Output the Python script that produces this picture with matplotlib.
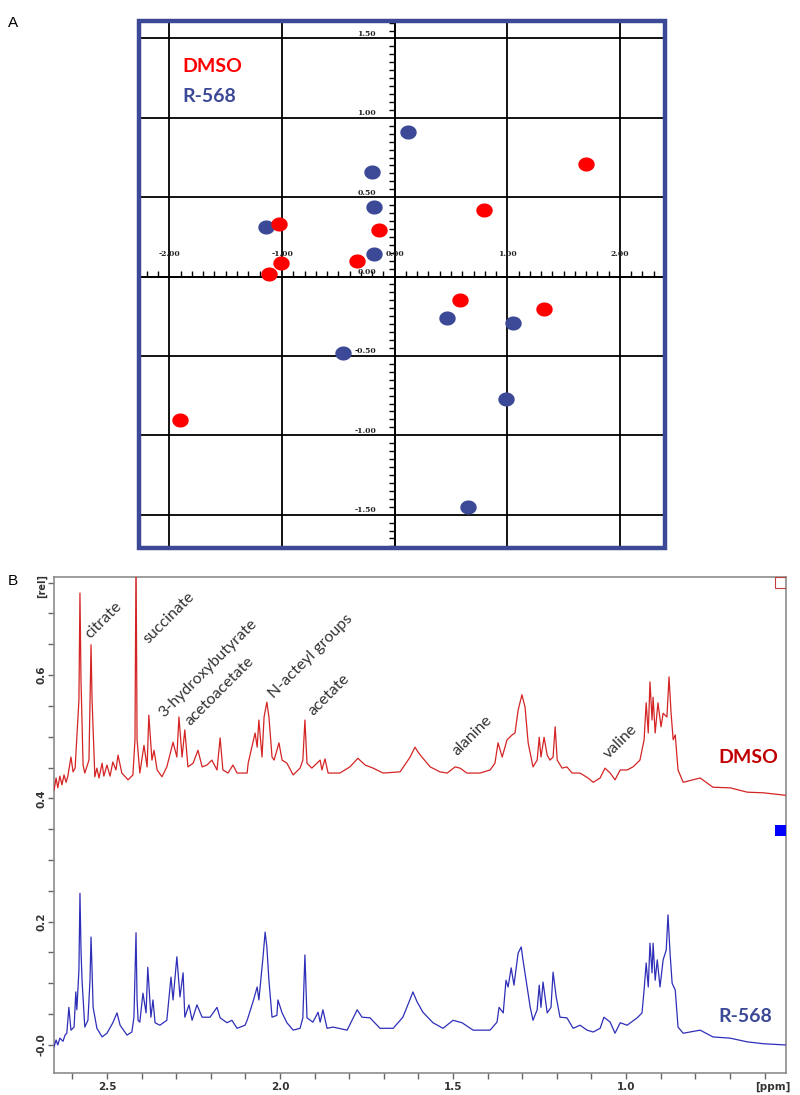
import matplotlib
matplotlib.use('Agg')
import numpy as np
import matplotlib.pyplot as plt
from matplotlib.path import Path
from matplotlib.patches import Rectangle

# ---------------- Panel A data (scores plot) ----------------
dmso_x = [1.695, 0.79, -1.03, -0.142, -1.005, -0.334, -1.12, 0.58, 1.325, -1.908]
dmso_y = [0.706, 0.42, 0.33, 0.296, 0.083, 0.10, 0.015, -0.148, -0.206, -0.906]
r568_x = [0.118, -0.20, -0.186, -1.145, -0.18, 0.467, 1.05, -0.455, 0.99, 0.65]
r568_y = [0.908, 0.66, 0.44, 0.31, 0.14, -0.26, -0.29, -0.48, -0.77, -1.45]

a_xticks = [-2.0, -1.0, 0.0, 1.0, 2.0]
a_xticklabels = ["-2.00", "-1.00", "0.00", "1.00", "2.00"]
a_yticks = [-1.5, -1.0, -0.5, 0.0, 0.5, 1.0, 1.5]
a_yticklabels = ["-1.50", "-1.00", "-0.50", "0.00", "0.50", "1.00", "1.50"]

# ---------------- Panel B data (1H NMR spectra) ----------------
dmso_ppm = [2.653, 2.647, 2.642, 2.636, 2.630, 2.624, 2.618, 2.613, 2.604, 2.598,
            2.592, 2.587, 2.581, 2.578, 2.575, 2.569, 2.564, 2.552, 2.546, 2.543,
            2.535, 2.529, 2.523, 2.514, 2.509, 2.500, 2.491, 2.483, 2.474, 2.468,
            2.457, 2.439, 2.425, 2.419, 2.416, 2.413, 2.405, 2.393, 2.384, 2.379,
            2.370, 2.364, 2.355, 2.341, 2.327, 2.309, 2.298, 2.292, 2.283, 2.275,
            2.266, 2.251, 2.237, 2.225, 2.211, 2.197, 2.182, 2.173, 2.165, 2.150,
            2.136, 2.124, 2.095, 2.092, 2.072, 2.066, 2.061, 2.052, 2.046, 2.038,
            2.032, 2.023, 2.017, 2.003, 1.994, 1.980, 1.962, 1.942, 1.934, 1.928,
            1.922, 1.908, 1.884, 1.879, 1.870, 1.861, 1.827, 1.798, 1.775, 1.754,
            1.731, 1.702, 1.653, 1.624, 1.610, 1.601, 1.590, 1.566, 1.538, 1.517,
            1.494, 1.480, 1.460, 1.422, 1.393, 1.379, 1.370, 1.358, 1.344, 1.329,
            1.321, 1.312, 1.301, 1.292, 1.283, 1.269, 1.257, 1.251, 1.246, 1.237,
            1.228, 1.220, 1.211, 1.205, 1.199, 1.185, 1.171, 1.156, 1.133, 1.110,
            1.095, 1.075, 1.061, 1.046, 1.032, 1.017, 0.997, 0.980, 0.960, 0.948,
            0.942, 0.936, 0.931, 0.925, 0.922, 0.916, 0.908, 0.899, 0.893, 0.882,
            0.876, 0.870, 0.864, 0.858, 0.850, 0.835, 0.786, 0.749, 0.699, 0.650,
            0.604, 0.540]
dmso_int = [0.413, 0.433, 0.417, 0.436, 0.422, 0.438, 0.426, 0.436, 0.467, 0.443,
            0.449, 0.499, 0.559, 0.733, 0.592, 0.454, 0.441, 0.462, 0.649, 0.559,
            0.435, 0.449, 0.433, 0.457, 0.436, 0.454, 0.436, 0.459, 0.446, 0.470,
            0.441, 0.430, 0.438, 0.495, 0.800, 0.495, 0.441, 0.486, 0.451, 0.535,
            0.462, 0.478, 0.446, 0.435, 0.451, 0.491, 0.467, 0.532, 0.467, 0.511,
            0.451, 0.457, 0.478, 0.451, 0.454, 0.462, 0.446, 0.498, 0.446, 0.441,
            0.454, 0.441, 0.441, 0.457, 0.506, 0.483, 0.527, 0.467, 0.532, 0.556,
            0.532, 0.467, 0.462, 0.490, 0.462, 0.457, 0.438, 0.449, 0.462, 0.527,
            0.457, 0.449, 0.462, 0.446, 0.464, 0.441, 0.441, 0.451, 0.465, 0.454,
            0.449, 0.441, 0.443, 0.467, 0.483, 0.475, 0.467, 0.451, 0.443, 0.441,
            0.451, 0.449, 0.441, 0.441, 0.446, 0.457, 0.490, 0.467, 0.495, 0.503,
            0.506, 0.543, 0.568, 0.548, 0.490, 0.451, 0.462, 0.499, 0.467, 0.499,
            0.470, 0.462, 0.467, 0.516, 0.462, 0.449, 0.451, 0.441, 0.441, 0.433,
            0.426, 0.433, 0.449, 0.441, 0.430, 0.446, 0.446, 0.451, 0.462, 0.495,
            0.555, 0.506, 0.589, 0.527, 0.564, 0.506, 0.555, 0.516, 0.538, 0.532,
            0.597, 0.538, 0.495, 0.503, 0.446, 0.426, 0.433, 0.418, 0.417, 0.410,
            0.409, 0.405]

r568_ppm = [2.653, 2.647, 2.642, 2.636, 2.627, 2.621, 2.616, 2.610, 2.604, 2.595,
            2.590, 2.587, 2.581, 2.578, 2.575, 2.572, 2.564, 2.555, 2.549, 2.546,
            2.543, 2.540, 2.529, 2.514, 2.500, 2.483, 2.471, 2.462, 2.442, 2.428,
            2.422, 2.416, 2.413, 2.410, 2.405, 2.396, 2.387, 2.382, 2.373, 2.367,
            2.361, 2.347, 2.327, 2.315, 2.309, 2.298, 2.289, 2.280, 2.275, 2.263,
            2.254, 2.240, 2.225, 2.202, 2.182, 2.173, 2.153, 2.139, 2.124, 2.101,
            2.095, 2.078, 2.066, 2.061, 2.049, 2.043, 2.038, 2.032, 2.023, 2.009,
            2.006, 1.994, 1.980, 1.962, 1.942, 1.934, 1.928, 1.922, 1.905, 1.890,
            1.884, 1.876, 1.864, 1.847, 1.806, 1.777, 1.763, 1.740, 1.711, 1.673,
            1.645, 1.627, 1.616, 1.604, 1.587, 1.558, 1.529, 1.500, 1.474, 1.442,
            1.393, 1.373, 1.367, 1.355, 1.347, 1.341, 1.332, 1.324, 1.312, 1.303,
            1.298, 1.277, 1.269, 1.257, 1.251, 1.246, 1.240, 1.228, 1.217, 1.211,
            1.202, 1.191, 1.171, 1.153, 1.133, 1.113, 1.095, 1.075, 1.064, 1.046,
            1.032, 1.017, 0.997, 0.968, 0.954, 0.948, 0.942, 0.936, 0.931, 0.925,
            0.922, 0.916, 0.910, 0.902, 0.893, 0.884, 0.879, 0.873, 0.867, 0.858,
            0.850, 0.835, 0.786, 0.749, 0.699, 0.650, 0.604, 0.540]
r568_int = [-0.003, 0.008, 0.000, 0.011, 0.006, 0.016, 0.019, 0.061, 0.024, 0.029,
            0.086, 0.057, 0.121, 0.246, 0.154, 0.105, 0.029, 0.040, 0.105, 0.175,
            0.121, 0.061, 0.027, 0.013, 0.019, 0.036, 0.052, 0.032, 0.016, 0.021,
            0.045, 0.182, 0.073, 0.040, 0.037, 0.084, 0.052, 0.126, 0.045, 0.073,
            0.036, 0.032, 0.040, 0.110, 0.073, 0.143, 0.078, 0.117, 0.045, 0.065,
            0.040, 0.065, 0.045, 0.045, 0.061, 0.044, 0.036, 0.040, 0.027, 0.032,
            0.040, 0.070, 0.094, 0.073, 0.143, 0.183, 0.159, 0.105, 0.045, 0.048,
            0.073, 0.052, 0.036, 0.024, 0.027, 0.044, 0.146, 0.044, 0.037, 0.053,
            0.037, 0.057, 0.027, 0.029, 0.024, 0.057, 0.045, 0.044, 0.027, 0.027,
            0.045, 0.070, 0.086, 0.070, 0.053, 0.036, 0.027, 0.040, 0.036, 0.024,
            0.024, 0.037, 0.061, 0.052, 0.105, 0.094, 0.125, 0.097, 0.149, 0.159,
            0.138, 0.061, 0.040, 0.057, 0.097, 0.061, 0.102, 0.052, 0.061, 0.118,
            0.078, 0.045, 0.044, 0.027, 0.032, 0.024, 0.021, 0.027, 0.045, 0.037,
            0.019, 0.036, 0.032, 0.044, 0.052, 0.089, 0.133, 0.094, 0.165, 0.117,
            0.165, 0.105, 0.138, 0.094, 0.138, 0.154, 0.211, 0.149, 0.100, 0.089,
            0.029, 0.019, 0.024, 0.013, 0.011, 0.005, 0.002, 0.000]

# metabolite annotations: (name, ppm, intensity of text start)
metab_names = ["citrate", "succinate", "3-hydroxybutyrate", "acetoacetate",
               "N-acteyl groups", "acetate", "alanine", "valine"]
metab_ppm = [2.547, 2.379, 2.336, 2.258, 2.018, 1.902, 1.486, 1.049]
metab_int = [0.658, 0.650, 0.530, 0.517, 0.562, 0.533, 0.468, 0.463]

b_xticks_major = [2.5, 2.0, 1.5, 1.0]
b_xticklabels = ["2.5", "2.0", "1.5", "1.0"]
b_yticks_major = [0.0, 0.2, 0.4, 0.6]
b_yticklabels = ["-0.0", "0.2", "0.4", "0.6"]

RED = '#FF0000'
NAVY = '#3B4996'

fig = plt.figure(figsize=(8.0, 10.95), dpi=100)

# ================= Panel A =================
axA = fig.add_axes([139/800, 1 - 548/1095, 526/800, 527/1095])
axA.set_xlim(-2.27, 2.40)
axA.set_ylim(-1.71, 1.61)

for s in ['top', 'right']:
    axA.spines[s].set_visible(False)
axA.spines['left'].set_position(('data', 0))
axA.spines['bottom'].set_position(('data', 0))
axA.spines['left'].set_linewidth(1.3)
axA.spines['bottom'].set_linewidth(1.3)

axA.set_xticks(a_xticks)
axA.set_yticks(a_yticks)
axA.set_xticks(np.arange(-2.2, 2.41, 0.1), minor=True)
axA.set_yticks(np.arange(-1.70, 1.61, 0.05), minor=True)
axA.tick_params(which='major', length=0, labelbottom=False, labelleft=False)
axA.tick_params(axis='x', which='minor', direction='in', length=4, width=1.0, color='black')
axA.tick_params(axis='y', which='minor', direction='out', length=4.5, width=1.0, color='black')
axA.grid(True, which='major', color='black', linewidth=1.3)
axA.set_axisbelow(True)

for v, lab in zip(a_xticks, a_xticklabels):
    axA.text(v, 0.145, lab, ha='center', va='center', fontsize=5.5,
             fontweight='bold', family='DejaVu Serif', color='#222222')
for v, lab in zip(a_yticks, a_yticklabels):
    axA.text(-0.165, v + 0.028, lab, ha='right', va='center', fontsize=5.5,
             fontweight='bold', family='DejaVu Serif', color='#222222')

# ellipse marker (slightly wider than tall)
t = np.linspace(0, 2 * np.pi, 60)
ell = Path(np.column_stack([np.cos(t), 0.86 * np.sin(t)]), closed=True)
axA.plot(r568_x, r568_y, linestyle='none', marker=ell, markersize=11.8,
         color=NAVY, markeredgewidth=0, zorder=5)
axA.plot(dmso_x, dmso_y, linestyle='none', marker=ell, markersize=11.8,
         color=RED, markeredgewidth=0, zorder=5)

axA.add_patch(Rectangle((0, 0), 1, 1, transform=axA.transAxes, fill=False,
                        edgecolor=NAVY, linewidth=3.2, clip_on=False, zorder=10))

fig.text(182/800, 1 - 72/1095, "DMSO", color=RED, fontsize=14,
         fontweight='bold', family='Lato', ha='left', va='baseline')
fig.text(182/800, 1 - 102/1095, "R-568", color=NAVY, fontsize=14,
         fontweight='bold', family='Lato', ha='left', va='baseline')

fig.text(8/800, 1 - 27/1095, "A", fontsize=11, family='Liberation Sans',
         ha='left', va='baseline')
fig.text(8/800, 1 - 585/1095, "B", fontsize=11, family='Liberation Sans',
         ha='left', va='baseline')

# ================= Panel B =================
axB = fig.add_axes([54/800, 1 - 1073/1095, 732/800, 496/1095])
axB.set_xlim(2.653, 0.538)
axB.set_ylim(-0.0455, 0.759)

axB.plot(dmso_ppm, dmso_int, color='#D42424', linewidth=0.9, zorder=3)
axB.plot(r568_ppm, r568_int, color='#2E2EB8', linewidth=0.9, zorder=3)

for sp in axB.spines.values():
    sp.set_color('#8C8C8C')
    sp.set_linewidth(1.2)

axB.set_xticks(np.round(np.arange(0.6, 2.61, 0.1), 2))
axB.set_xticklabels([])
axB.set_yticks(np.round(np.arange(0.0, 0.751, 0.05), 2))
axB.set_yticklabels([])
axB.tick_params(axis='both', direction='out', length=4, width=1.0, color='#666666')

for v, lab in zip(b_xticks_major, b_xticklabels):
    axB.text(v, -0.0685, lab, ha='center', va='center', fontsize=7.5,
             fontweight='bold', color='#333333', clip_on=False)
axB.text(0.575, -0.0685, "[ppm]", ha='center', va='center', fontsize=7.5,
         fontweight='bold', color='#333333', clip_on=False)
for v, lab in zip(b_yticks_major, b_yticklabels):
    axB.text(2.688, v, lab, ha='center', va='center', fontsize=7.5, rotation=90,
             fontweight='bold', color='#333333', clip_on=False)
axB.text(2.688, 0.745, "[rel]", ha='center', va='center', fontsize=7, rotation=90,
         fontweight='bold', color='#333333', clip_on=False)

for name, px, iy in zip(metab_names, metab_ppm, metab_int):
    axB.text(px, iy, name, rotation=45, rotation_mode='anchor', ha='left',
             va='baseline', fontsize=11.5, family='Lato', color='#333333', zorder=4)

axB.text(0.561, 0.457, "DMSO", color='#C00000', fontsize=14, fontweight='bold',
         family='Lato', ha='right', va='baseline')
axB.text(0.578, 0.037, "R-568", color=NAVY, fontsize=14, fontweight='bold',
         family='Lato', ha='right', va='baseline')

# instrument widgets on the right edge
axB.add_patch(Rectangle((1 - 11/732, 1 - 11/496), 11/732, 11/496, transform=axB.transAxes,
                        fill=False, edgecolor='#C04040', linewidth=0.8, zorder=6))
axB.add_patch(Rectangle((1 - 11/732, 1 - 259/496), 11/732, 11/496, transform=axB.transAxes,
                        facecolor='#0000FF', edgecolor='none', zorder=6))

fig.savefig('out.png', dpi=100)
